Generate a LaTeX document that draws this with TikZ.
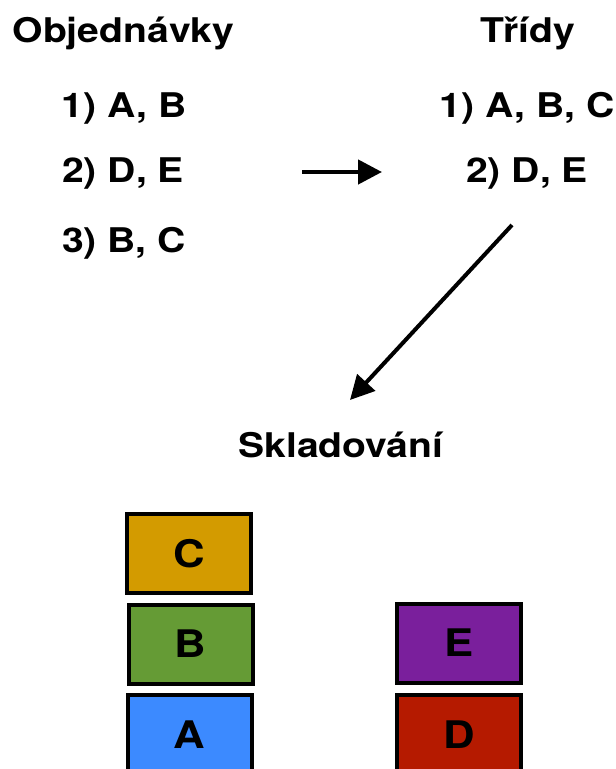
\documentclass[tikz,border=0pt]{standalone}
\usepackage{fontspec}
\setmainfont{TeX Gyre Heros}[FakeStretch=1.15]
\usetikzlibrary{arrows.meta}

\definecolor{crateC}{HTML}{D39B00}
\definecolor{crateB}{HTML}{659B35}
\definecolor{crateA}{HTML}{3C8AFF}
\definecolor{crateE}{HTML}{7A1F9C}
\definecolor{crateD}{HTML}{B51A00}

\begin{document}
\begin{tikzpicture}[x=1pt, y=-1pt, >={Triangle[length=24pt,width=24pt]},
  font=\fontsize{34}{40}\selectfont\bfseries,
  every node/.style={inner sep=0pt},
  crate/.style={draw, line width=4pt, minimum width=124pt, minimum height=79pt,
    font=\fontsize{38}{44}\selectfont\bfseries}]

\clip (0,0) rectangle (616,769);

% orders and classes
\node[anchor=base] (orders) at (123.5,42) {Objednávky};
\node[anchor=base] (o1) at (124,117) {1) A, B};
\node[anchor=base] (o2) at (123,182) {2) D, E};
\node[anchor=base] (o3) at (124,252) {3) B, C};

\node[anchor=base] (classes) at (528,42) {Třídy};
\node[anchor=base] (c1) at (527,117) {1) A, B, C};
\node[anchor=base] (c2) at (527,182) {2) D, E};

\coordinate (r0) at (302,172); \coordinate (r1) at (382,172);
\draw[->, line width=4.5pt] (r0)--(r1);

\coordinate (d0) at (512,225); \coordinate (d1) at (350,400);
\draw[->, line width=4pt] (d0)--(d1);

% storage
\node[anchor=base] (storage) at (341,457) {Skladování};

\node[crate, fill=crateC] (C) at (189,553.5) {C};
\node[crate, fill=crateB] (B) at (190.5,644) {B};
\node[crate, fill=crateA] (A) at (189.5,734.5) {A};

\node[crate, fill=crateE] (E) at (459,643) {E};
\node[crate, fill=crateD] (D) at (459,734.5) {D};

\end{tikzpicture}
\end{document}
